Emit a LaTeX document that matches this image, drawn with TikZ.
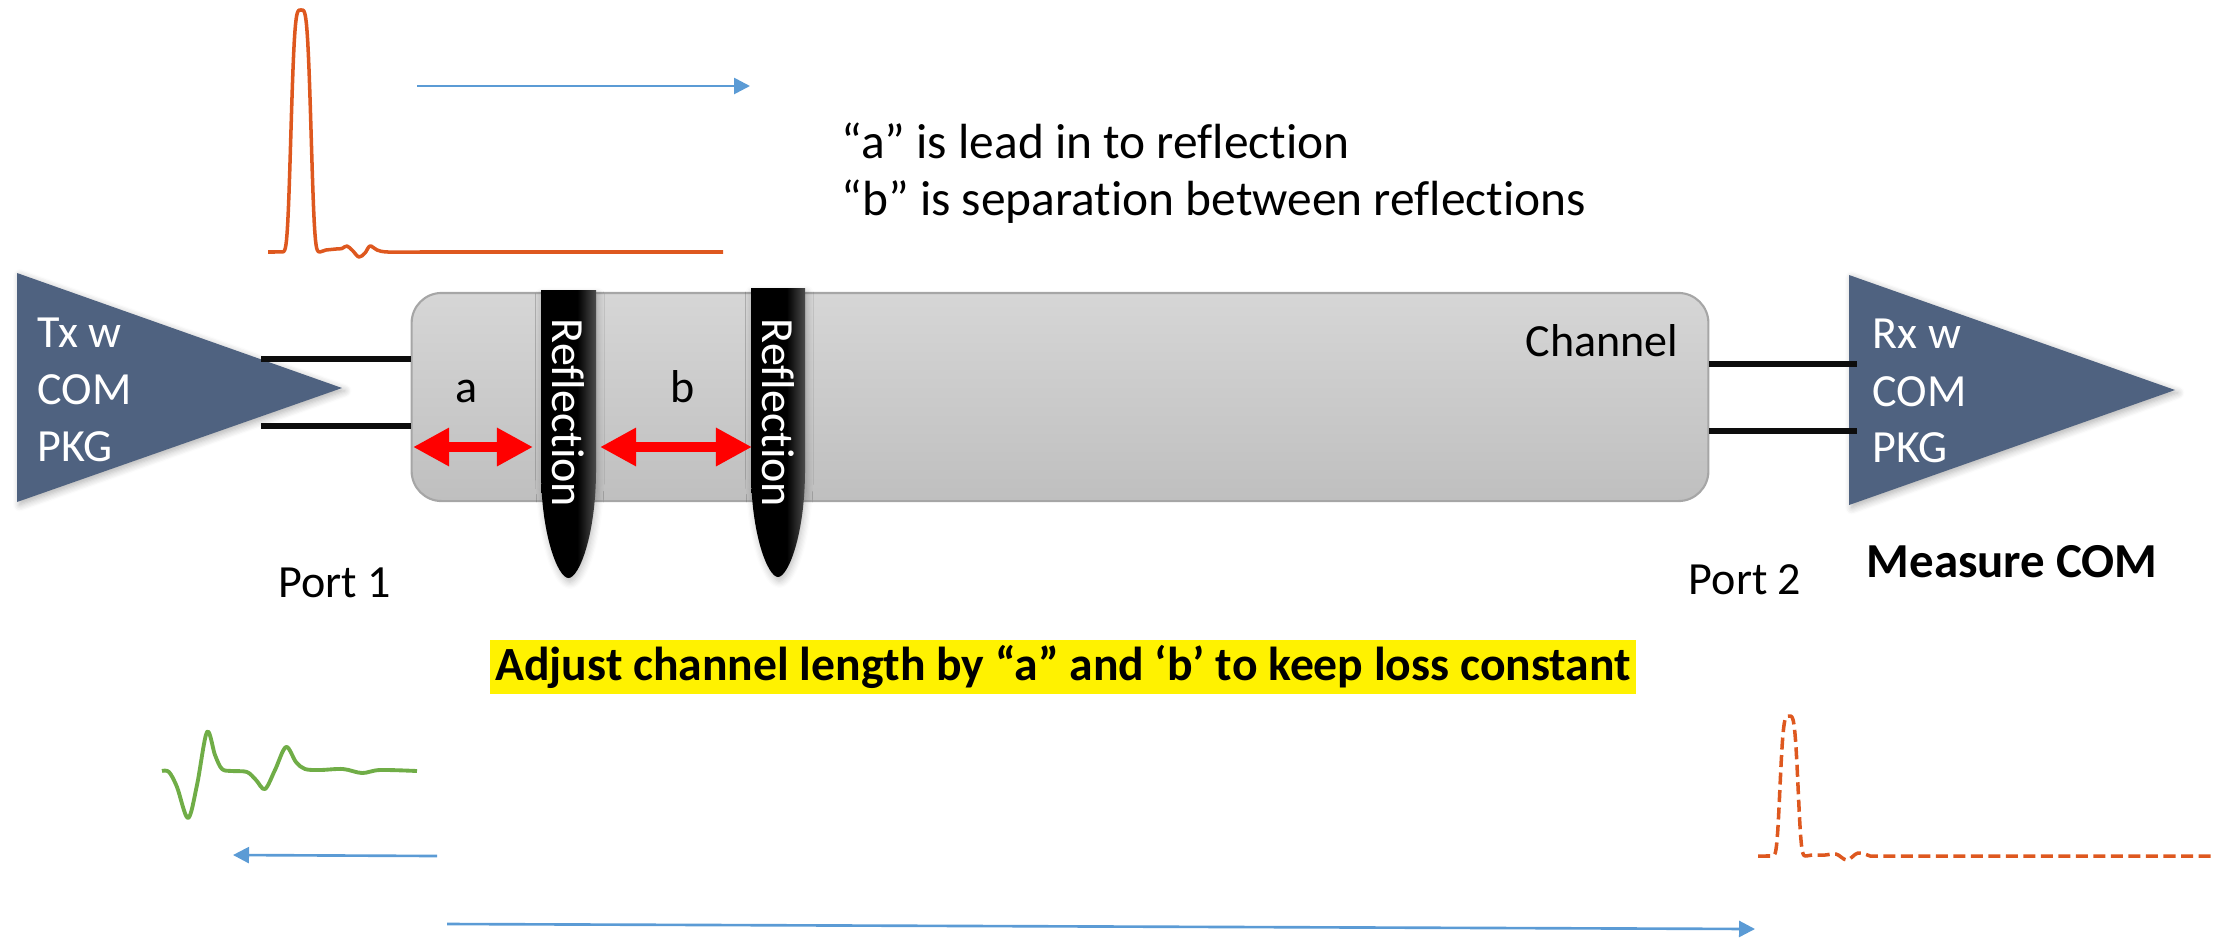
\documentclass[tikz,border=0pt]{standalone}
\usepackage{fontspec}
\setmainfont{Carlito}[Ligatures={NoCommon}]
\usetikzlibrary{arrows.meta,shadows.blur}

\definecolor{slate}{RGB}{79,98,128}
\definecolor{pulseorange}{RGB}{222,88,31}
\definecolor{wavegreen}{RGB}{112,173,71}
\definecolor{flowblue}{RGB}{91,155,213}
\definecolor{chanT}{RGB}{214,214,214}
\definecolor{chanB}{RGB}{191,191,191}
\definecolor{chanedge}{RGB}{166,166,166}

% dark bar: black body with a lighter right rim
\pgfdeclarehorizontalshading{barshade}{100bp}{color(0bp)=(black); color(25bp)=(black); color(58bp)=(black); color(75bp)=(black!70); color(100bp)=(black!70)}

\tikzset{
  lbl/.style={font=\fontsize{13.1}{15.7}\selectfont, inner sep=0pt},
  biglbl/.style={font=\fontsize{14.05}{16.8}\selectfont, inner sep=0pt},
  boldlbl/.style={font=\fontsize{13.9}{16.7}\selectfont\bfseries, inner sep=0pt},
  wlbl/.style={lbl, text=white},
  amp/.style={fill=slate, blur shadow={shadow xshift=0.8pt, shadow yshift=-0.8pt, shadow blur steps=6, shadow opacity=30}},
  chanbox/.style={draw=chanedge, line width=0.6pt, top color=chanT, bottom color=chanB,
    rounded corners=0.3cm, minimum width=12.96cm, minimum height=2.08cm, inner sep=0pt},
  wire/.style={draw=black!95, line width=1.9pt},
  bar/.style={shading=barshade, blur shadow={shadow xshift=0.4pt, shadow yshift=-1.2pt, shadow blur steps=6, shadow opacity=25}},
  span/.style={draw=red, line width=2.6pt, {Triangle[length=0.36cm,width=0.36cm]}-{Triangle[length=0.36cm,width=0.36cm]}},
  flow/.style={draw=flowblue, line width=0.75pt, -{Triangle[length=0.16cm,width=0.16cm]}},
  orangewave/.style={draw=pulseorange, line width=1pt, line join=round},
  greenwave/.style={draw=wavegreen, line width=1.1pt, line join=round},
  notebox/.style={fill=yellow, minimum width=11.46cm, minimum height=0.54cm, inner sep=0pt,
    font=\fontsize{13.55}{16.2}\selectfont\bfseries}
}

\begin{document}
\begin{tikzpicture}[x=0.01cm, y=-0.01cm]
\useasboundingbox (0,0) rectangle (2225,939);

% ---------- incident pulse and its direction ----------
\draw[orangewave] (268,252) -- plot[domain=282:320, samples=60] (\x, {252-242/exp(((\x-301)^2/121)^2)})
  -- plot[smooth, tension=0.6] coordinates {(326,250)(336,249)(342,248.5)(347,246)(353,251)(359,257)(365,253)(370,246)(377,250)(388,252)(420,252)}
  -- (723,252);
\coordinate (fwdS) at (417,86);
\coordinate (fwdE) at (750,86);
\draw[flow] (fwdS) -- (fwdE);

\node[biglbl, anchor=base west] (noteA) at (841,158) {“a” is lead in to reflection};
\node[biglbl, anchor=base west] (noteB) at (841,215) {“b” is separation between reflections};

% ---------- channel ----------
\node[chanbox] (chan) at (1060,397) {};
\node[lbl, anchor=base east] (chanlbl) at (1679,356) {Channel};

% ---------- transmitter ----------
\path[amp] (17,273) -- (342,388) -- (17,502) -- cycle;
\node[wlbl, anchor=base west] (tx1) at (37,347) {Tx w};
\node[wlbl, anchor=base west] (tx2) at (37,404) {COM};
\node[wlbl, anchor=base west] (tx3) at (37,461) {PKG};
\coordinate (txA) at (261,359);
\coordinate (txB) at (261,426);
\draw[wire] (txA) -- (txA -| chan.west);
\draw[wire] (txB) -- (txB -| chan.west);

% ---------- receiver ----------
\path[amp] (1849,275) -- (2175,390) -- (1849,505) -- cycle;
\node[wlbl, anchor=base west] (rx1) at (1872,348) {Rx w};
\node[wlbl, anchor=base west] (rx2) at (1872,406) {COM};
\node[wlbl, anchor=base west] (rx3) at (1872,462) {PKG};
\coordinate (rxA) at (1857,364);
\coordinate (rxB) at (1857,431);
\draw[wire] (rxA -| chan.east) -- (rxA);
\draw[wire] (rxB -| chan.east) -- (rxB);

% ---------- reflections ----------
\shade[bar] (541,290) -- (541,470) .. controls (541,535) and (558,578) .. (568.5,578)
  .. controls (579,578) and (596,535) .. (596,470) -- (596,290) -- cycle;
\shade[bar] (751,288) -- (751,470) .. controls (751,535) and (768,577) .. (778,577)
  .. controls (788,577) and (805,535) .. (805,470) -- (805,288) -- cycle;
\node[wlbl, rotate=-90] (refl1) at (568,413) {Reflection};
\node[wlbl, rotate=-90] (refl2) at (778,413) {Reflection};

% ---------- spans a and b ----------
\coordinate (aL) at (413,447);
\coordinate (aR) at (533,447);
\coordinate (bL) at (600,447);
\coordinate (bR) at (752,447);
\draw[span] (aL) -- (aR);
\draw[span] (bL) -- (bR);
\node[lbl, anchor=base] (alab) at (467,402) {a};
\node[lbl, anchor=base] (blab) at (683,402) {b};

% ---------- ports ----------
\node[lbl, anchor=base west] (port1) at (278,597) {Port 1};
\node[lbl, anchor=base east] (port2) at (1802,594) {Port 2};
\node[boldlbl, anchor=base west] (meas) at (1866,577) {Measure COM};

\node[notebox] (adjust) at (1063,667) {Adjust channel length by “a” and ‘b’ to keep loss constant};

% ---------- reflected response ----------
\draw[greenwave] plot[smooth, tension=0.55] coordinates {(162,771)(169,772)(177,787)(188,818)(197,785)(207,732)(215,755)(222,769)(232,771)(247,772)(256,780)(265,789)(275,770)(286,747)(296,762)(305,769)(320,770)(343,769)(362,773)(380,770)(417,771)};
\coordinate (bwdS) at (437,856);
\coordinate (bwdE) at (233,855);
\draw[flow] (bwdS) -- (bwdE);

% ---------- transmitted pulse ----------
\draw[orangewave, dash pattern=on 0.12cm off 0.055cm] (1758,856) -- plot[domain=1772:1806, samples=60] (\x, {856-140/exp(((\x-1789)^2/97)^2)})
  -- plot[smooth, tension=0.6] coordinates {(1812,855)(1825,855)(1836,854)(1847,860)(1858,853)(1870,856)}
  -- (2213,856);
\coordinate (thruS) at (447,924);
\coordinate (thruE) at (1755,929);
\draw[flow] (thruS) -- (thruE);
\end{tikzpicture}
\end{document}
